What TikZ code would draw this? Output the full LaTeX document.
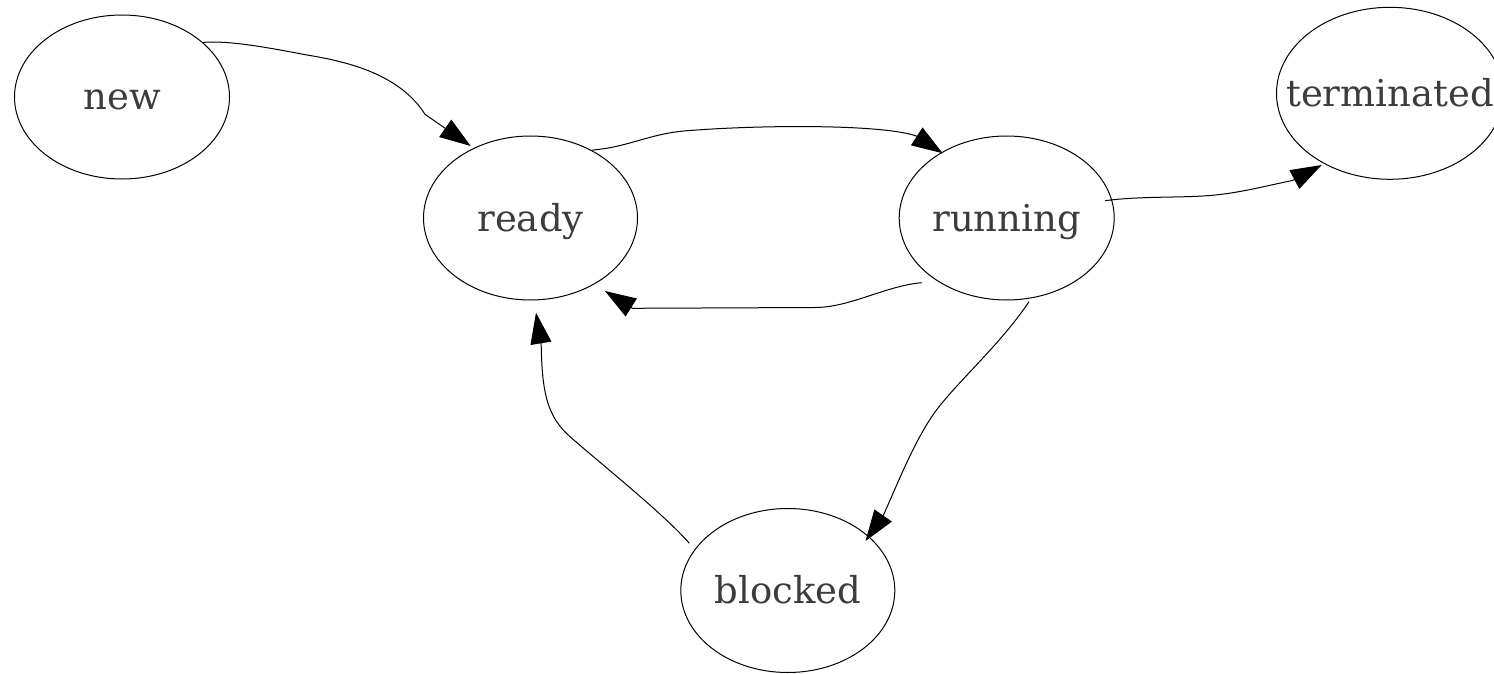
\documentclass[tikz,border=0pt]{standalone}
\usepackage{fontspec}
\setmainfont{DejaVu Serif}
\usetikzlibrary{arrows.meta,shapes.geometric}
\definecolor{txt}{HTML}{3C3C3C}
\begin{document}
\begin{tikzpicture}[x=1pt,y=-1pt,
  st/.style={ellipse, draw=black, line width=1pt, inner sep=0pt, text=txt,
    font=\fontsize{37}{41}\selectfont, text height=30pt, text depth=4pt,
    minimum width=215pt, minimum height=164pt},
  edge/.style={draw=black, line width=1pt, -{Triangle[length=31pt,width=21pt]}}]
\useasboundingbox (0,0) rectangle (1494,674);
\node[st] (new) at (122,97) {\makebox[0pt]{new}};
\node[st, minimum width=214pt] (ready) at (530.5,218) {\makebox[0pt]{ready}};
\node[st] (running) at (1006.7,218) {\makebox[0pt]{running}};
\node[st, minimum width=214pt] (blocked) at (787.8,590.5) {\makebox[0pt]{blocked}};
\node[st, minimum width=227pt, minimum height=172pt] (term) at (1390,93.3) {\makebox[0pt]{terminated}};
% new -> ready
\draw[edge] (new.34) .. controls (230,40) and (275,49) .. (307,55)
  .. controls (350,62) and (400,75) .. (425,114.3)
  -- ([shift={(-59.8,-72)}]ready.center);
% ready -> running
\draw[edge] (ready.48) .. controls (630,147) and (650,133) .. (690,130.5)
  .. controls (760,125) and (880,124) .. (915.8,135.8)
  -- ([shift={(-64,-64.7)}]running.center);
% running -> ready
\draw[edge] ([shift={(-85,64.7)}]running.center) .. controls (885,286) and (850,307.5) .. (815,307.5)
  -- (632.5,308.3) -- ([shift={(74.5,73)}]ready.center);
% running -> terminated
\draw[edge] ([shift={(98.3,-17.3)}]running.center) .. controls (1140,196) and (1180,198) .. (1210,195.5)
  .. controls (1240,193) and (1265,186) .. (1292.5,180.5)
  -- ([shift={(-68.3,71.7)}]term.center);
% running -> blocked
\draw[edge] ([shift={(22.3,83.7)}]running.center) .. controls (1000,345) and (957,382) .. (935,412)
  .. controls (915,440) and (900,478) .. (883.5,515)
  -- ([shift={(77.7,-49.5)}]blocked.center);
% blocked -> ready
\draw[edge] ([shift={(-98.5,-47.2)}]blocked.center) .. controls (665,515) and (600,463) .. (570,436.7)
  .. controls (548,417) and (542,395) .. (541.2,344.7)
  -- ([shift={(5.5,94.7)}]ready.center);
\end{tikzpicture}
\end{document}
